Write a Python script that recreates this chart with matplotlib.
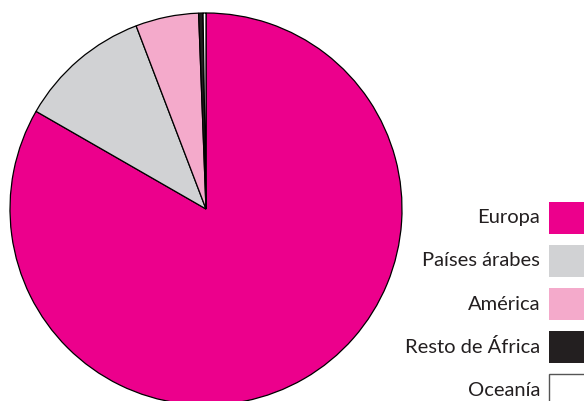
import matplotlib
matplotlib.use("Agg")
import matplotlib.pyplot as plt
from matplotlib.patches import Rectangle

labels = ["Europa", "Países árabes", "América", "Resto de África", "Oceanía"]
values = [83.3, 10.9, 5.2, 0.36, 0.24]
colors = ["#EC008C", "#D1D2D4", "#F4AACB", "#231F20", "#FFFFFF"]

W, H = 584, 401
fig = plt.figure(figsize=(W / 100, H / 100), dpi=100)
ax = fig.add_axes([0, 0, 1, 1])

# pie, clipped by the bottom of the canvas like the original
ax.pie(values, colors=colors, startangle=90, counterclock=False,
       center=(206, H - 209), radius=196, frame=True,
       wedgeprops=dict(edgecolor="black", linewidth=0.9))
ax.set_xlim(0, W)
ax.set_ylim(0, H)
ax.set_aspect("equal")
ax.axis("off")

# legend: labels on the left, swatches running off the right edge
sw_x, sw_w, sw_h = 549, 45, 32
top = H - 202
pitch = 43
for i, (lab, col) in enumerate(zip(labels, colors)):
    y = top - i * pitch
    ec = "#555555" if col == "#FFFFFF" else "none"
    ax.add_patch(Rectangle((sw_x, y - sw_h), sw_w, sw_h, facecolor=col,
                           edgecolor=ec, linewidth=1.0, clip_on=False))
    ax.text(sw_x - 9, y - sw_h / 2, lab, ha="right", va="center",
            fontsize=14.5, family="Lato", color="#231F20")

fig.savefig("out.png", dpi=100)
